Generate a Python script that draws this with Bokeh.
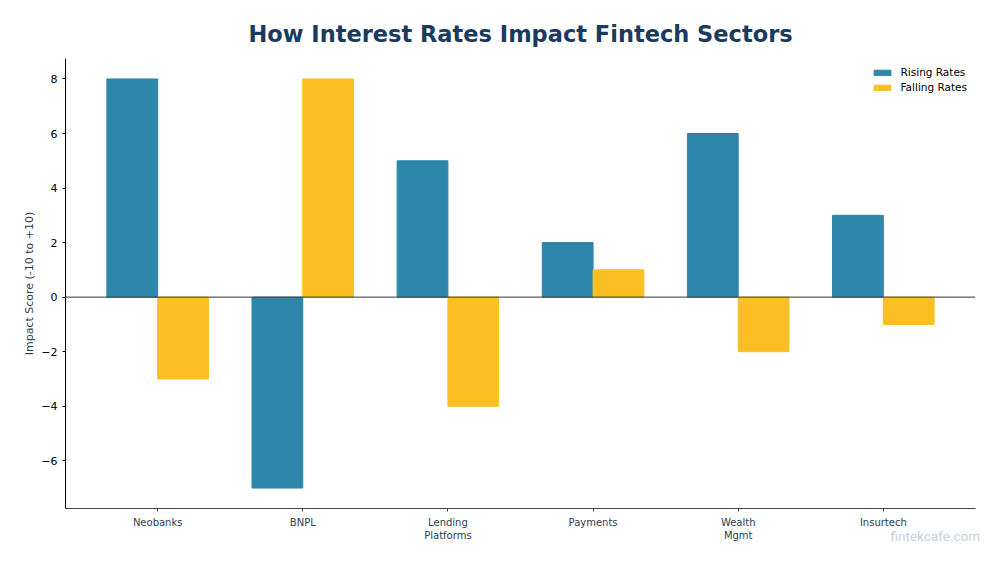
from bokeh.plotting import figure
from bokeh.models import Legend, LegendItem, Span, FixedTicker
from bokeh.embed import file_html
from bokeh.resources import INLINE

categories = ["Neobanks", "BNPL", "Lending\nPlatforms", "Payments", "Wealth\nMgmt", "Insurtech"]
rising = [8, -7, 5, 2, 6, 3]
falling = [-3, 8, -4, 1, -2, -1]
y_ticks = [-6, -4, -2, 0, 2, 4, 6, 8]
watermark = "fintekcafe.com"

bar_w = 0.35
idx = list(range(len(categories)))
x_rise = [i - bar_w / 2 for i in idx]
x_fall = [i + bar_w / 2 for i in idx]

RISE = "#2E86AB"
FALL = "#FBBF24"
TEXT = "#2C3E50"

p = figure(width=984, height=547, output_backend="svg", toolbar_location=None,
           x_range=(-0.635, 5.635), y_range=(-7.75, 8.75),
           min_border_left=65, min_border_right=9, min_border_top=58, min_border_bottom=39)

p.title.text = "How Interest Rates Impact Fintech Sectors"
p.title.align = "center"
p.title.text_font = "DejaVu Sans"
p.title.text_font_size = "22.5px"
p.title.text_font_style = "bold"
p.title.text_color = "#1B3A5F"
p.title.standoff = 24

p.grid.visible = False
p.outline_line_color = None

r1 = p.vbar(x=x_rise, top=rising, bottom=0, width=bar_w, fill_color=RISE, line_color=RISE, line_width=1)
r2 = p.vbar(x=x_fall, top=falling, bottom=0, width=bar_w, fill_color=FALL, line_color=FALL, line_width=1)

p.add_layout(Span(location=0, dimension="width", line_color="#333333", line_width=1))

# axes
p.xaxis.ticker = FixedTicker(ticks=idx)
p.xaxis.major_label_overrides = {i: c for i, c in zip(idx, categories)}
p.xaxis.major_label_text_font = "DejaVu Sans"
p.xaxis.major_label_text_font_size = "10px"
p.xaxis.major_label_text_color = TEXT
p.xaxis.axis_line_color = "#444444"
p.xaxis.axis_line_width = 1.2
p.xaxis.major_tick_line_color = "#444444"
p.xaxis.major_tick_in = 0
p.xaxis.major_tick_out = 3
p.xaxis.minor_tick_line_color = None
# watermark carried as the x axis label at the right end (padded so it sits inside the page)
p.xaxis.axis_label = watermark + "\u00a0" * 24
p.xaxis.axis_label_align = "end"
p.xaxis.axis_label_standoff = -16
p.xaxis.axis_label_text_font = "Roboto"
p.xaxis.axis_label_text_font_size = "13.5px"
p.xaxis.axis_label_text_font_style = "normal"
p.xaxis.axis_label_text_color = "#C5D0DE"

p.yaxis.ticker = FixedTicker(ticks=y_ticks)
p.yaxis.major_label_overrides = {t: str(t).replace("-", "\u2212") for t in y_ticks}
p.yaxis.major_label_text_font = "DejaVu Sans"
p.yaxis.major_label_text_font_size = "11px"
p.yaxis.major_label_text_color = "#000000"
p.yaxis.axis_line_color = "#000000"
p.yaxis.axis_line_width = 1
p.yaxis.major_tick_line_color = "#000000"
p.yaxis.major_tick_in = 0
p.yaxis.major_tick_out = 3
p.yaxis.minor_tick_line_color = None
p.yaxis.axis_label = "Impact Score (-10 to +10)"
p.yaxis.axis_label_text_font = "DejaVu Sans"
p.yaxis.axis_label_text_font_size = "11px"
p.yaxis.axis_label_text_font_style = "normal"
p.yaxis.axis_label_text_color = TEXT
p.yaxis.axis_label_standoff = 2

legend = Legend(items=[LegendItem(label="Rising Rates", renderers=[r1]),
                       LegendItem(label="Falling Rates", renderers=[r2])],
                location="top_right", border_line_color=None, background_fill_alpha=0,
                label_text_font="DejaVu Sans", label_text_font_size="10.5px",
                label_text_color="#000000",
                glyph_width=21, glyph_height=7, spacing=3, padding=4,
                label_height=12, label_standoff=8, margin=8)
p.add_layout(legend)

open("out.html", "w").write(file_html(p, INLINE))
